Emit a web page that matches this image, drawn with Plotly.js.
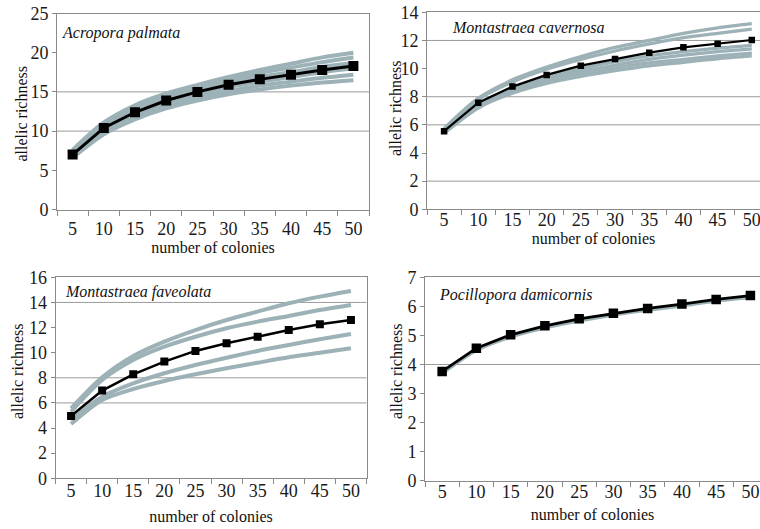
<!DOCTYPE html>
<html>
<head>
<meta charset="utf-8">
<script src="https://cdn.plot.ly/plotly-3.0.1.min.js"></script>
<style>html,body{margin:0;padding:0;background:#fff;}#chart{width:760px;height:529px;}</style>
</head>
<body>
<div id="chart"></div>
<script>
// ---- data ----
const colonies = ['5','10','15','20','25','30','35','40','45','50'];
const yTitle = 'allelic richness';
const xTitle = 'number of colonies';

// Acropora palmata
const palmataMean = [7.0, 10.4, 12.4, 13.9, 15.0, 15.9, 16.6, 17.2, 17.8, 18.3];
const palmataRun1 = [7.6, 11.1, 13.3, 14.8, 15.9, 16.9, 17.8, 18.6, 19.4, 20.0];
const palmataRun2 = [7.4, 10.8, 13.0, 14.5, 15.6, 16.5, 17.4, 18.1, 18.8, 19.4];
const palmataRun3 = [7.2, 10.5, 12.6, 14.1, 15.2, 16.1, 16.9, 17.5, 18.2, 18.7];
const palmataRun4 = [7.0, 10.2, 12.2, 13.7, 14.7, 15.6, 16.3, 16.9, 17.5, 18.0];
const palmataRun5 = [6.8, 9.9, 11.9, 13.3, 14.3, 15.1, 15.8, 16.3, 16.8, 17.2];
const palmataRun6 = [6.6, 9.6, 11.5, 12.9, 13.9, 14.7, 15.3, 15.8, 16.2, 16.5];

// Montastraea cavernosa
const cavernosaMean = [5.55, 7.58, 8.72, 9.55, 10.21, 10.68, 11.13, 11.51, 11.77, 12.03];
const cavernosaRun1 = [5.75, 7.9, 9.2, 10.1, 10.85, 11.5, 12.0, 12.5, 12.9, 13.2];
const cavernosaRun2 = [5.7, 7.8, 9.05, 9.95, 10.65, 11.25, 11.75, 12.2, 12.5, 12.8];
const cavernosaRun3 = [5.55, 7.5, 8.6, 9.4, 10.0, 10.5, 10.9, 11.2, 11.45, 11.65];
const cavernosaRun4 = [5.5, 7.4, 8.5, 9.25, 9.8, 10.25, 10.65, 10.95, 11.2, 11.4];
const cavernosaRun5 = [5.45, 7.3, 8.35, 9.05, 9.6, 10.05, 10.4, 10.65, 10.9, 11.1];
const cavernosaRun6 = [5.4, 7.2, 8.25, 8.95, 9.45, 9.85, 10.2, 10.45, 10.7, 10.9];

// Montastraea faveolata
const faveolataMean = [4.96, 6.98, 8.28, 9.29, 10.14, 10.75, 11.27, 11.8, 12.26, 12.6];
const faveolataRun1 = [5.57, 8.04, 9.74, 10.88, 11.8, 12.6, 13.27, 13.93, 14.46, 14.91];
const faveolataRun2 = [5.3, 7.83, 9.42, 10.48, 11.27, 11.94, 12.47, 12.92, 13.4, 13.8];
const faveolataRun3 = [4.64, 6.5, 7.56, 8.36, 9.02, 9.6, 10.14, 10.61, 11.07, 11.49];
const faveolataRun4 = [4.32, 6.23, 7.11, 7.75, 8.28, 8.76, 9.2, 9.63, 10.0, 10.35];

// Pocillopora damicornis
const damicornisMean = [3.76, 4.56, 5.02, 5.33, 5.57, 5.76, 5.93, 6.08, 6.24, 6.37];
const damicornisRun1 = [3.7, 4.5, 4.96, 5.27, 5.51, 5.71, 5.88, 6.03, 6.19, 6.32];

// visible horizontal gridlines per panel
const gridPalmata = [10, 15];
const gridCavernosa = [2, 6, 8, 12];
const gridFaveolata = [6, 8, 14];
const gridDamicornis = [4];

// ---- styling ----
const W = 760, H = 529;
const serif = 'Liberation Serif, Times New Roman, serif';
const grayLine = '#9db2b7';
const axisGray = '#8a8a8a';

const panels = [
  {name: 'Acropora palmata', mean: palmataMean,
   runs: [palmataRun1, palmataRun2, palmataRun3, palmataRun4, palmataRun5, palmataRun6],
   grid: gridPalmata, yr: [0, 25], dt: 5, gw: 4,
   px: [57, 369], py: [13.5, 209.5], xr: [-0.5, 9.5], mirrorY: true,
   msize: 10, lw: 3, label: [60, 33], lblStand: 3, xtStand: 3, yt: [21, 113.5]},
  {name: 'Montastraea cavernosa', mean: cavernosaMean,
   runs: [cavernosaRun1, cavernosaRun2, cavernosaRun3, cavernosaRun4, cavernosaRun5, cavernosaRun6],
   grid: gridCavernosa, yr: [0, 14], dt: 2, gw: 3.3,
   px: [427, 760], py: [12.3, 209.3], xr: [-0.5, 9.24], mirrorY: false,
   msize: 6.5, lw: 2.2, label: [450, 27], lblStand: -6, xtStand: 3, yt: [396, 108]},
  {name: 'Montastraea faveolata', mean: faveolataMean,
   runs: [faveolataRun1, faveolataRun2, faveolataRun3, faveolataRun4],
   grid: gridFaveolata, yr: [0, 16], dt: 2, gw: 4,
   px: [55.5, 366.5], py: [277.3, 478.3], xr: [-0.5, 9.5], mirrorY: true,
   msize: 8, lw: 2.5, label: [63, 292], lblStand: -4, xtStand: 10, yt: [17, 371]},
  {name: 'Pocillopora damicornis', mean: damicornisMean,
   runs: [damicornisRun1],
   grid: gridDamicornis, yr: [0, 7], dt: 1, gw: 4,
   px: [425, 760], py: [277.3, 480.7], xr: [-0.5, 9.28], mirrorY: false,
   msize: 9.5, lw: 2.8, label: [437, 295], lblStand: -5, xtStand: 7, yt: [396, 371]}
];

const data = [];
const layout = {
  width: W, height: H,
  margin: {l: 0, r: 0, t: 0, b: 0},
  paper_bgcolor: '#ffffff', plot_bgcolor: '#ffffff',
  showlegend: false,
  shapes: [], annotations: []
};

panels.forEach((p, i) => {
  const n = i + 1;
  const xa = n === 1 ? 'x' : 'x' + n;
  const ya = n === 1 ? 'y' : 'y' + n;
  const xk = n === 1 ? 'xaxis' : 'xaxis' + n;
  const yk = n === 1 ? 'yaxis' : 'yaxis' + n;

  p.runs.forEach(r => {
    data.push({x: colonies, y: r, xaxis: xa, yaxis: ya, type: 'scatter', mode: 'lines',
      line: {color: grayLine, width: p.gw, shape: 'spline', smoothing: 0.8}, hoverinfo: 'skip'});
  });
  data.push({x: colonies, y: p.mean, xaxis: xa, yaxis: ya, type: 'scatter', mode: 'lines+markers',
    line: {color: '#000000', width: p.lw},
    marker: {symbol: 'square', size: p.msize, color: '#000000'}});

  layout[xk] = {
    type: 'category', domain: [p.px[0] / W, p.px[1] / W], anchor: ya,
    range: p.xr, showgrid: false, zeroline: false,
    showline: true, linecolor: axisGray, linewidth: 1, mirror: true,
    ticks: 'outside', tickson: 'boundaries', ticklen: 5, tickcolor: axisGray,
    tickfont: {family: serif, size: 18, color: '#1a1a1a'},
    ticklabelstandoff: p.lblStand,
    title: {text: xTitle, font: {family: serif, size: 16, color: '#111'}, standoff: p.xtStand},
    automargin: false, fixedrange: true
  };
  layout[yk] = {
    domain: [1 - p.py[1] / H, 1 - p.py[0] / H], anchor: xa,
    range: p.yr, dtick: p.dt, tick0: 0, showgrid: false, zeroline: false,
    showline: true, linecolor: axisGray, linewidth: 1, mirror: p.mirrorY,
    ticks: 'outside', ticklen: 4, tickcolor: axisGray,
    tickfont: {family: serif, size: 18, color: '#1a1a1a'},
    automargin: false, fixedrange: true
  };

  // y-axis title placed as rotated text beside the axis
  layout.annotations.push({text: yTitle, xref: 'paper', yref: 'paper',
    x: p.yt[0] / W, y: 1 - p.yt[1] / H, xanchor: 'center', yanchor: 'middle', textangle: -90,
    showarrow: false, font: {family: serif, size: 16, color: '#111'}});

  p.grid.forEach(v => {
    layout.shapes.push({type: 'line', layer: 'below', xref: xa + ' domain', x0: 0, x1: 1,
      yref: ya, y0: v, y1: v, line: {color: '#9a9a9a', width: 1}});
  });

  layout.annotations.push({text: '<i>' + p.name + '</i>', xref: 'paper', yref: 'paper',
    x: p.label[0] / W, y: 1 - p.label[1] / H, xanchor: 'left', yanchor: 'middle',
    showarrow: false, font: {family: serif, size: 16, color: '#111'}});
});

Plotly.newPlot('chart', data, layout, {staticPlot: true, displayModeBar: false});
</script>
</body>
</html>
